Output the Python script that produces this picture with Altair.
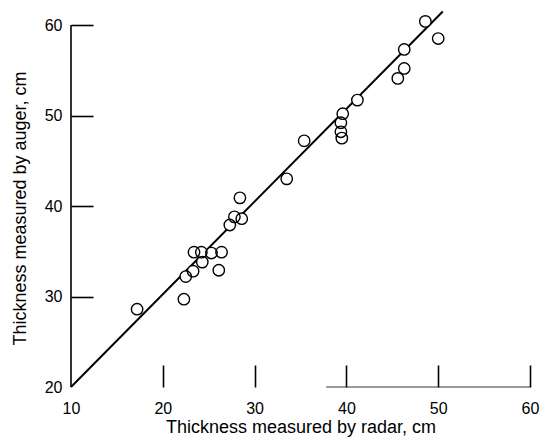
import altair as alt
import pandas as pd

# Data
radar = [17.2, 22.3, 22.5, 23.3, 23.4, 24.2, 24.3, 25.3, 26.4, 26.1, 27.3, 27.8, 28.6,
         28.4, 33.5, 35.4, 39.6, 39.4, 39.4, 39.5, 41.2, 45.6, 46.3, 46.3, 48.6, 50.0]
auger = [28.6, 29.7, 32.2, 32.8, 34.9, 34.9, 33.8, 34.8, 34.9, 32.9, 37.9, 38.8, 38.6,
         40.9, 43.0, 47.2, 50.2, 49.2, 48.2, 47.5, 51.7, 54.1, 55.2, 57.3, 60.4, 58.5]

fit_x = [10, 50.5]
fit_y = [20, 61.5]

x_ticks = [10, 20, 30, 40, 50, 60]
y_ticks = [20, 30, 40, 50, 60]
x_domain = [10, 60]
y_domain = [20, 60]
baseline_x = [37.8, 60]

FONT = "Liberation Sans, Arial, sans-serif"

pts = pd.DataFrame({"radar": radar, "auger": auger})
fit = pd.DataFrame({"radar": fit_x, "auger": fit_y})

xs = alt.Scale(domain=x_domain, nice=False, zero=False)
ys = alt.Scale(domain=y_domain, nice=False, zero=False)

x_axis = alt.Axis(
    values=x_ticks, orient="bottom", offset=-22, tickSize=22, tickWidth=1.6,
    tickColor="black", domain=False, grid=False, labelPadding=13, labelFlush=False,
    labelFont=FONT, labelFontSize=16, labelColor="black",
    title="Thickness measured by radar, cm", titleFont=FONT, titleFontSize=18,
    titleFontWeight="normal", titleColor="black", titleY=67, titleBaseline="alphabetic",
    tickOpacity={"condition": {"test": "datum.value == 10", "value": 0}, "value": 1},
)
y_axis = alt.Axis(
    values=y_ticks, orient="left", offset=-22, tickSize=22, tickWidth=1.6,
    tickColor="black", domain=False, grid=False, labelPadding=9, labelFlush=False,
    labelFont=FONT, labelFontSize=16, labelColor="black",
    title="Thickness measured by auger, cm", titleFont=FONT, titleFontSize=18,
    titleFontWeight="normal", titleColor="black", titleX=-73, titleY=183,
    titleBaseline="middle", titleAngle=270,
    tickOpacity={"condition": {"test": "datum.value == 20", "value": 0}, "value": 1},
)

line = alt.Chart(fit).mark_line(color="black", strokeWidth=2).encode(
    x=alt.X("radar:Q", scale=xs, axis=x_axis),
    y=alt.Y("auger:Q", scale=ys, axis=y_axis),
)

yline = alt.Chart(pd.DataFrame({"x": [x_domain[0]], "y": [y_domain[0]], "y2": [y_domain[1]]})).mark_rule(
    color="black", strokeWidth=1.6
).encode(x=alt.X("x:Q", scale=xs), y=alt.Y("y:Q", scale=ys), y2="y2:Q")

xline = alt.Chart(pd.DataFrame({"x": [baseline_x[0]], "x2": [baseline_x[1]], "y": [y_domain[0]]})).mark_rule(
    color="#333333", strokeWidth=1.2
).encode(x=alt.X("x:Q", scale=xs), x2="x2:Q", y=alt.Y("y:Q", scale=ys))

fill = alt.Chart(pts).mark_point(shape="circle", filled=True, color="white", opacity=1, size=130).encode(
    x=alt.X("radar:Q", scale=xs), y=alt.Y("auger:Q", scale=ys)
)
ring = alt.Chart(pts).mark_point(shape="circle", filled=False, color="black", opacity=1,
                                 size=130, strokeWidth=1.4).encode(
    x=alt.X("radar:Q", scale=xs), y=alt.Y("auger:Q", scale=ys)
)

chart = alt.layer(line, yline, xline, fill, ring).properties(
    width=459, height=362,
    autosize=alt.AutoSizeParams(type="none"),
    padding={"left": 63, "top": 17, "right": 18, "bottom": 50},
    background="white",
).configure_view(stroke=None)

chart.save("out.html", embed_options={"renderer": "svg", "actions": False})
